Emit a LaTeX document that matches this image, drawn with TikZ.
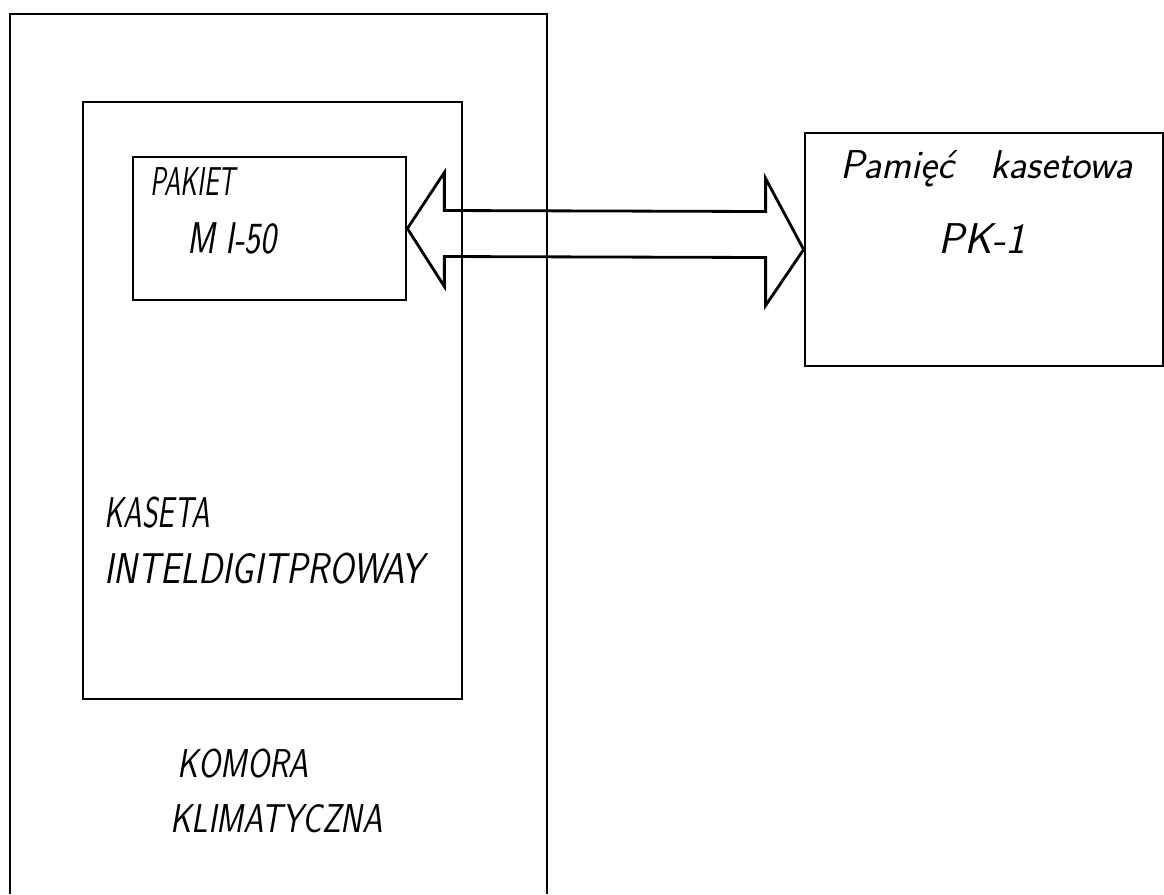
\documentclass[tikz,border=0pt]{standalone}
\usepackage{fontspec}
\usepackage{tikz}
\usetikzlibrary{positioning,calc}

% hand lettering is narrow: squeeze it sideways
\newcommand{\hw}[2]{\scalebox{#1}[1]{#2}}

\tikzset{
  box/.style={draw, line width=1.6pt, inner sep=0pt},
  lbl/.style={inner sep=0pt, anchor=base west,
    font=\sffamily\itshape\fontsize{#1}{#1}\selectfont},
  bus/.style={draw, line width=1.6pt, line join=miter}
}

\begin{document}
\begin{tikzpicture}[x=0.02cm, y=-0.02cm]
  \useasboundingbox (0,0) rectangle (1164,894);
  % Climate chamber (open at the bottom)
  \draw[line width=1.6pt] (10,894) -- (10,14) -- (547,14) -- (547,894);
  % Cassette and the M I-50 board inside it
  \node[box, minimum width=7.58cm, minimum height=11.94cm] (kaseta) at (272.5,400.5) {};
  \node[box, minimum width=5.46cm, minimum height=2.86cm] (pakiet) at (269.5,228.5) {};
  % Cassette memory
  \node[box, minimum width=7.16cm, minimum height=4.66cm] (pk) at (984,249.5) {};
  % Two-way bus between board and memory
  \draw[bus] (pakiet.east) -- ++(37,-56) -- ++(0,38)
    -- ($(pk.west)+(-38,-38)$) -- ++(0,-33) -- (pk.west)
    -- ++(-38,56) -- ++(0,-48)
    -- ($(pakiet.east)+(37,28)$) -- ++(0,30) -- cycle;
  % Labels
  \node[lbl=22.9] (pakietlbl) at (150,195) {\hw{0.65}{PAKIET}};
  \node[lbl=25.3] (mlbl) at (187,253) {\hw{0.76}{M I-50}};
  \node[lbl=22.9] (pamlbl) at (840,178) {Pamięć\hspace{0.9em}kasetowa};
  \node[lbl=24.5] (pklbl) at (938,253) {PK-1};
  \node[lbl=24.5] (kasetalbl) at (104,527) {\hw{0.69}{KASETA}};
  \node[lbl=24.5] (intellbl) at (104,583) {\hw{0.83}{INTELDIGITPROWAY}};
  \node[lbl=22.9] (komoralbl) at (177,777) {\hw{0.80}{KOMORA}};
  \node[lbl=22.9] (klimlbl) at (170,832) {\hw{0.81}{KLIMATYCZNA}};
\end{tikzpicture}
\end{document}
